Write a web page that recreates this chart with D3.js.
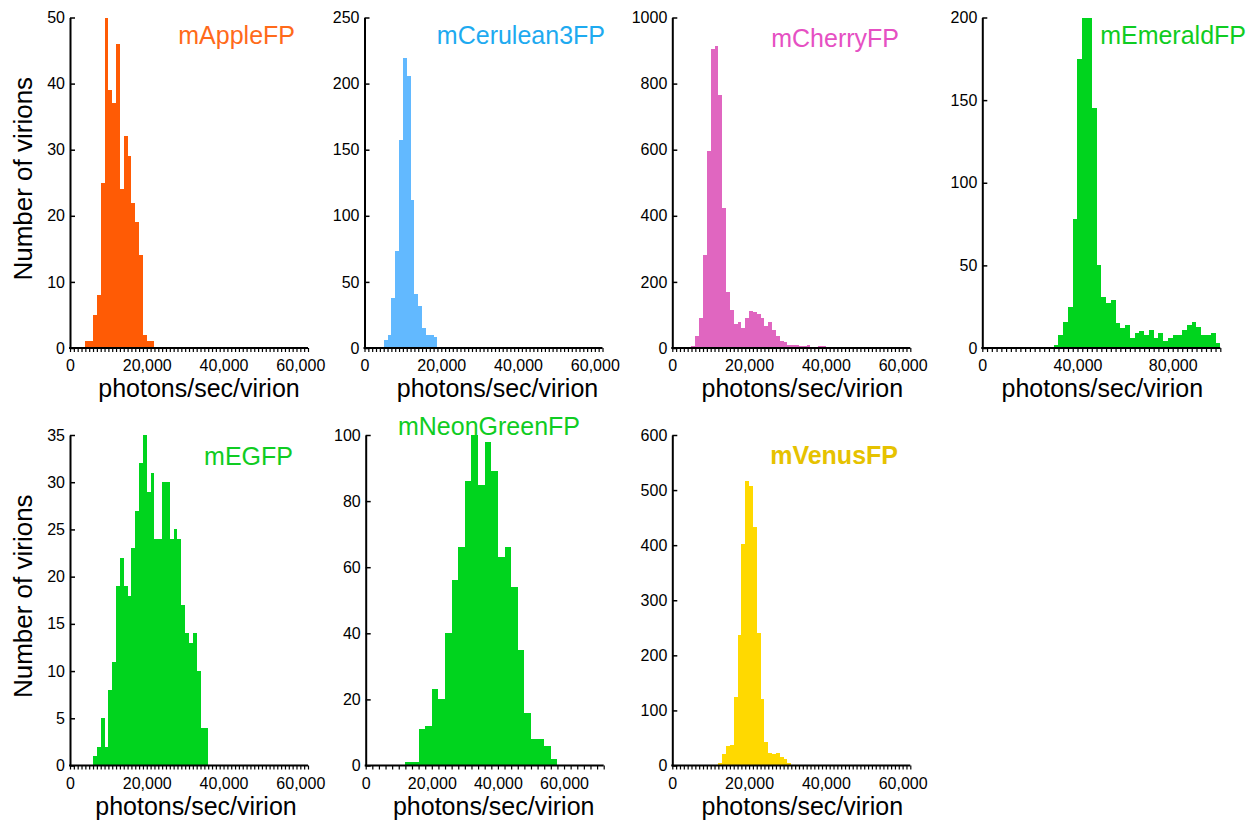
<!DOCTYPE html>
<html lang="en">
<head>
<meta charset="utf-8">
<title>D3: virion brightness histograms</title>
<script type="text/javascript" src="https://cdn.jsdelivr.net/npm/d3@7"></script>
<style type="text/css">
body { margin: 0; background: #fff; }
svg text { font-family: "Liberation Sans", Arial, Helvetica, sans-serif; }
.bar { shape-rendering: crispEdges; }
</style>
</head>
<body>
<script type="text/javascript">

// Histogram counts (one value per bin)
var appleCounts   = [1, 1, 5, 8, 25, 50, 39, 37, 46, 24, 32, 29, 22, 19, 14, 2, 1, 1];
var ceruleanCounts = [6, 10, 38, 73, 157, 219, 206, 112, 41, 32, 15, 10, 10, 8, 1];
var cherryCounts  = [5, 35, 90, 280, 595, 905, 915, 765, 425, 170, 115, 73, 78, 60, 90, 112, 110, 104, 90,
                     68, 80, 55, 35, 22, 18, 10, 8, 10, 6, 5, 8, 3, 2, 5, 6, 2, 1];
var emeraldCounts = [2, 8, 16, 25, 78, 175, 200, 200, 145, 50, 31, 27, 29, 15, 12, 14, 6, 9, 10, 8, 11, 6,
                     9, 4, 6, 8, 8, 11, 14, 16, 13, 8, 8, 9, 3];
var egfpCounts    = [1, 2, 5, 2, 8, 11, 19, 22, 19, 18, 23, 27, 32, 35, 29, 31, 24, 24, 30, 30, 24, 25, 24,
                     17, 14, 13, 14, 10, 4, 4];
var neonCounts    = [1, 1, 11, 12, 23, 20, 40, 56, 66, 86, 100, 85, 98, 89, 63, 66, 54, 35, 16, 8, 8, 6, 2];
var venusCounts   = [5, 20, 35, 38, 125, 237, 402, 516, 508, 433, 241, 121, 43, 22, 20, 23, 16, 12, 5];

var names    = ["mAppleFP", "mCerulean3FP", "mCherryFP", "mEmeraldFP", "mEGFP", "mNeonGreenFP", "mVenusFP"];
var counts   = [appleCounts, ceruleanCounts, cherryCounts, emeraldCounts, egfpCounts, neonCounts, venusCounts];
var binStart = [4000, 5000, 5000, 30000, 6000, 12000, 12000];   // photons/sec/virion
var binWidth = [1000, 1000, 1000, 2000, 1000, 2000, 1000];
var xMax     = [62000, 62000, 62000, 100000, 62000, 72000, 62000];

// Tick labels
var xTicks = [
	[0, 20000, 40000, 60000], [0, 20000, 40000, 60000], [0, 20000, 40000, 60000],
	[0, 40000, 80000],
	[0, 20000, 40000, 60000], [0, 20000, 40000, 60000], [0, 20000, 40000, 60000]
];
var yTicks = [
	[0, 10, 20, 30, 40, 50],
	[0, 50, 100, 150, 200, 250],
	[0, 200, 400, 600, 800, 1000],
	[0, 50, 100, 150, 200],
	[0, 5, 10, 15, 20, 25, 30, 35],
	[0, 20, 40, 60, 80, 100],
	[0, 100, 200, 300, 400, 500, 600]
];

//Layout and styles
var w = 1256;
var h = 822;
var plotW = 238, plotH = 330.5;
var panelLeft = [70, 364.5, 672.3, 982.3, 70, 365.7, 672.3];
var panelTop  = [17.5, 17.5, 17.5, 17.5, 435, 435, 435];
var barColor  = ["#ff5b05", "#62b9ff", "#e066c0", "#00d41e", "#00d41e", "#00d41e", "#ffd900"];
var titleColor = ["#ff6a1a", "#1eaaf0", "#e650c3", "#0fcc22", "#0fcc22", "#0fcc22", "#e6c200"];
var titleEnd  = [295, 605, 899, 1246, 293, 580, 898];
var titleBase = [43.5, 44, 46.5, 43.5, 465, 435, 463.5];
var titleBold = [false, false, false, false, false, false, true];
var xTitleShift = [10, 14, 11, 1, 7, 9, 11];
var showYTitle = [true, false, false, false, true, false, false];

var svg = d3.select("body")
			.append("svg")
			.attr("width", w)
			.attr("height", h);

names.forEach(function(name, p) {

	var x = d3.scaleLinear().domain([0, xMax[p]]).range([0, plotW]);
	var y = d3.scaleLinear().domain([0, d3.max(yTicks[p])]).range([plotH, 0]);

	var g = svg.append("g")
		.attr("transform", "translate(" + panelLeft[p] + "," + panelTop[p] + ")");

	//Bars
	g.selectAll("rect")
		.data(counts[p])
		.enter()
		.append("rect")
		.attr("class", "bar")
		.attr("x", function(d, i) { return x(binStart[p] + i * binWidth[p]); })
		.attr("width", x(binWidth[p]) - x(0))
		.attr("y", function(d) { return y(d); })
		.attr("height", function(d) { return plotH - y(d); })
		.style("fill", barColor[p]);

	//Minor ticks on x axis, one per bin
	var minor = g.append("g")
		.attr("transform", "translate(0," + plotH + ")")
		.call(d3.axisBottom(x)
			.tickValues(d3.range(0, xMax[p] + 1, binWidth[p]))
			.tickSize(4)
			.tickSizeOuter(0)
			.tickFormat(""));
	minor.select(".domain").remove();
	minor.selectAll("line").style("stroke", "#000").style("stroke-width", 1.2);

	//X tick labels
	var xl = g.append("g")
		.attr("transform", "translate(0," + plotH + ")")
		.call(d3.axisBottom(x)
			.tickValues(xTicks[p])
			.tickSize(0)
			.tickPadding(12)
			.tickFormat(d3.format(",")));
	xl.select(".domain").remove();
	xl.selectAll("text").style("font-size", "16px").style("fill", "#000")
		.style("font-family", "'Liberation Sans', Arial, sans-serif");

	//X axis line
	g.append("line")
		.attr("x1", -1).attr("x2", plotW)
		.attr("y1", plotH).attr("y2", plotH)
		.style("stroke", "#000")
		.style("stroke-width", 2);

	//Y axis
	var ya = g.append("g")
		.call(d3.axisLeft(y)
			.tickValues(yTicks[p])
			.tickSizeInner(-5)
			.tickSizeOuter(0)
			.tickPadding(5)
			.tickFormat(d3.format("d")));
	ya.select(".domain").style("stroke", "#000").style("stroke-width", 2);
	ya.selectAll("line").style("stroke", "#000").style("stroke-width", 1.5);
	ya.selectAll("text").style("font-size", "16px").style("fill", "#000")
		.style("font-family", "'Liberation Sans', Arial, sans-serif");

	//Axis titles
	g.append("text")
		.attr("x", plotW / 2 + xTitleShift[p])
		.attr("y", plotH + 49)
		.attr("text-anchor", "middle")
		.style("font-size", "25px")
		.style("fill", "#000")
		.text("photons/sec/virion");

	if (showYTitle[p]) {
		g.append("text")
			.attr("transform", "translate(" + (32 - panelLeft[p]) + "," + (plotH / 2 - 4) + ") rotate(-90)")
			.attr("text-anchor", "middle")
			.style("font-size", "26px")
			.style("fill", "#000")
			.text("Number of virions");
	}

	//Panel title
	svg.append("text")
		.attr("x", titleEnd[p])
		.attr("y", titleBase[p])
		.attr("text-anchor", "end")
		.style("font-size", "25px")
		.style("font-weight", titleBold[p] ? "bold" : "normal")
		.style("fill", titleColor[p])
		.text(name);
});

</script>
</body>
</html>
